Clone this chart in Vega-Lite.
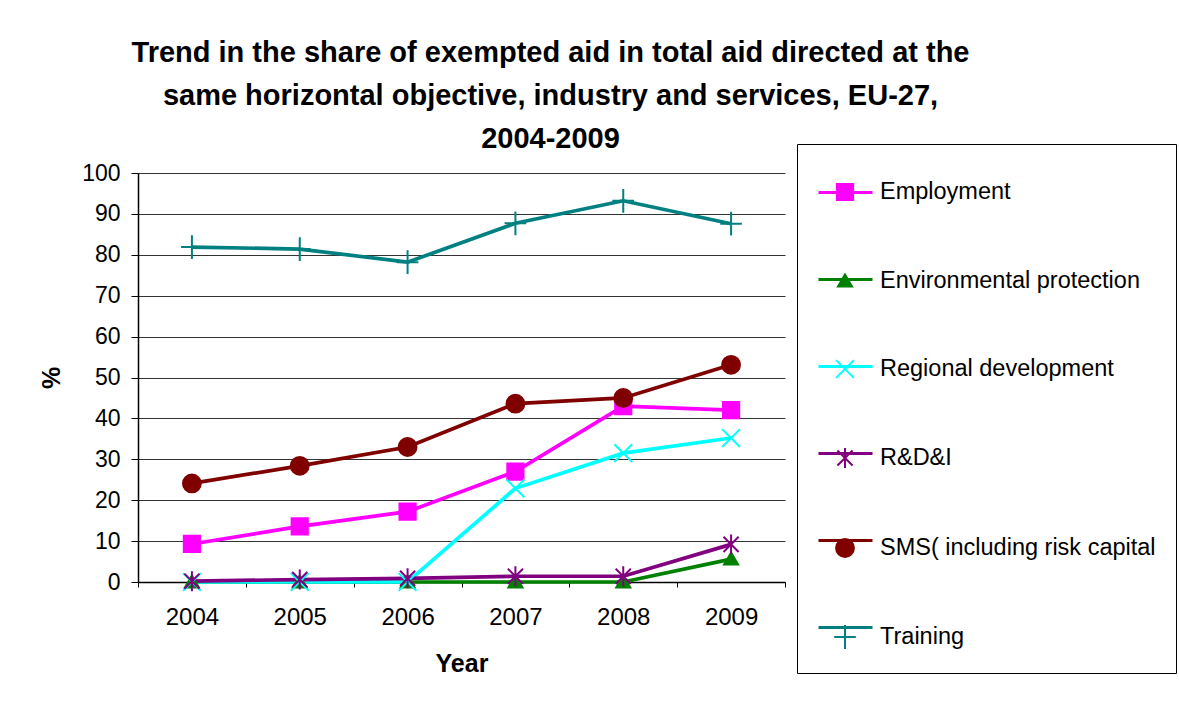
{
  "$schema": "https://vega.github.io/schema/vega-lite/v6.json",
  "autosize": {"type": "none"},
  "padding": {"left": 138, "top": 173, "right": 394, "bottom": 120},
  "width": 647,
  "height": 409,
  "background": "white",
  "config": {
    "font": "Liberation Sans",
    "view": {"stroke": null}
  },
  "title": {
    "text": ["Trend in the share of exempted aid in total aid directed at the", "same horizontal objective, industry and services, EU-27,", "2004-2009"],
    "font": "Liberation Sans",
    "fontSize": 29,
    "fontWeight": "bold",
    "color": "black",
    "anchor": "middle",
    "frame": "group",
    "dx": 89,
    "dy": 22,
    "lineHeight": 43,
    "offset": 12
  },
  "data": {
    "values": [
      {"series": "Employment", "year": "2004", "value": 9.3},
      {"series": "Employment", "year": "2005", "value": 13.6},
      {"series": "Employment", "year": "2006", "value": 17.2},
      {"series": "Employment", "year": "2007", "value": 27.0},
      {"series": "Employment", "year": "2008", "value": 43.0},
      {"series": "Employment", "year": "2009", "value": 42.0},
      {"series": "Environmental protection", "year": "2004", "value": 0},
      {"series": "Environmental protection", "year": "2005", "value": 0},
      {"series": "Environmental protection", "year": "2006", "value": 0},
      {"series": "Environmental protection", "year": "2007", "value": 0},
      {"series": "Environmental protection", "year": "2008", "value": 0},
      {"series": "Environmental protection", "year": "2009", "value": 5.6},
      {"series": "Regional development", "year": "2004", "value": 0},
      {"series": "Regional development", "year": "2005", "value": 0},
      {"series": "Regional development", "year": "2006", "value": 0},
      {"series": "Regional development", "year": "2007", "value": 22.9},
      {"series": "Regional development", "year": "2008", "value": 31.5},
      {"series": "Regional development", "year": "2009", "value": 35.2},
      {"series": "R&D&I", "year": "2004", "value": 0.2},
      {"series": "R&D&I", "year": "2005", "value": 0.6},
      {"series": "R&D&I", "year": "2006", "value": 0.9},
      {"series": "R&D&I", "year": "2007", "value": 1.4},
      {"series": "R&D&I", "year": "2008", "value": 1.4},
      {"series": "R&D&I", "year": "2009", "value": 9.2},
      {"series": "SMS( including risk capital", "year": "2004", "value": 24.1},
      {"series": "SMS( including risk capital", "year": "2005", "value": 28.4},
      {"series": "SMS( including risk capital", "year": "2006", "value": 33.0},
      {"series": "SMS( including risk capital", "year": "2007", "value": 43.6},
      {"series": "SMS( including risk capital", "year": "2008", "value": 45.0},
      {"series": "SMS( including risk capital", "year": "2009", "value": 53.1},
      {"series": "Training", "year": "2004", "value": 81.9},
      {"series": "Training", "year": "2005", "value": 81.4},
      {"series": "Training", "year": "2006", "value": 78.2},
      {"series": "Training", "year": "2007", "value": 87.7},
      {"series": "Training", "year": "2008", "value": 93.2},
      {"series": "Training", "year": "2009", "value": 87.6}
    ]
  },
  "encoding": {
    "x": {
      "field": "year",
      "type": "ordinal",
      "bandPosition": 0.5,
      "scale": {"type": "band", "paddingInner": 0, "paddingOuter": 0},
      "axis": {
        "title": "Year",
        "titleFont": "Liberation Sans",
        "titleFontSize": 25,
        "titleFontWeight": "bold",
        "titleColor": "black",
        "titlePadding": 22,
        "labelFont": "Liberation Sans",
        "labelFontSize": 24,
        "labelColor": "black",
        "labelAngle": 0,
        "labelPadding": 18,
        "tickBand": "extent",
        "tickSize": 5,
        "tickColor": "black",
        "domainColor": "black",
        "domainWidth": 1.5,
        "grid": false
      }
    },
    "y": {
      "field": "value",
      "type": "quantitative",
      "scale": {"domain": [0, 100], "nice": false},
      "axis": {
        "title": "%",
        "titleFont": "Liberation Sans",
        "titleFontSize": 25,
        "titleFontWeight": "bold",
        "titleColor": "black",
        "titlePadding": 17,
        "values": [0, 10, 20, 30, 40, 50, 60, 70, 80, 90, 100],
        "labelFont": "Liberation Sans",
        "labelFontSize": 23,
        "labelColor": "black",
        "labelPadding": 11,
        "tickSize": 7,
        "tickColor": "black",
        "domainColor": "black",
        "domainWidth": 1.5,
        "grid": true,
        "gridColor": "#333333",
        "gridWidth": 1
      }
    }
  },
  "layer": [
    {
      "mark": {"type": "line", "strokeWidth": 3.7},
      "encoding": {
        "color": {
          "field": "series",
          "type": "nominal",
          "sort": ["Employment", "Environmental protection", "Regional development", "R&D&I", "SMS( including risk capital", "Training"],
          "scale": {"range": ["#FF00FF", "#008000", "#00FFFF", "#800080", "#800000", "#008080"]},
          "legend": {
            "title": null,
            "orient": "none",
            "legendX": 659,
            "legendY": -29,
            "strokeColor": null,
            "fillColor": null,
            "padding": 20,
            "rowPadding": 47,
            "labelOffset": 7,
            "labelFont": "Liberation Sans",
            "labelFontSize": 23.5,
            "labelOpacity": 0,
            "labelLimit": 400,
            "symbolType": "M-1,0L1,0",
            "symbolSize": 2916,
            "symbolStrokeWidth": 3,
            "symbolOpacity": 1
          }
        }
      }
    },
    {
      "mark": {"type": "point", "filled": true, "strokeWidth": 2, "opacity": 1, "size": 2916},
      "encoding": {
        "fill": {
          "field": "series",
          "type": "nominal",
          "scale": {
            "domain": ["Employment", "Environmental protection", "Regional development", "R&D&I", "SMS( including risk capital", "Training"],
            "range": ["#FF00FF", "#008000", "#00FFFF", "#800080", "#800000", "#008080"]
          },
          "legend": {
            "title": null,
            "orient": "none",
            "legendX": 659,
            "legendY": -29,
            "strokeColor": "black",
            "padding": 20,
            "rowPadding": 48,
            "labelOffset": 7,
            "labelFont": "Liberation Sans",
            "labelFontSize": 23.5,
            "labelColor": "black",
            "labelLimit": 400,
            "symbolSize": 2916,
            "symbolStrokeWidth": 2,
            "symbolOpacity": 1
          }
        },
        "stroke": {
          "field": "series",
          "type": "nominal",
          "scale": {
            "domain": ["Employment", "Environmental protection", "Regional development", "R&D&I", "SMS( including risk capital", "Training"],
            "range": ["#FF00FF", "#008000", "#00FFFF", "#800080", "#800000", "#008080"]
          },
          "legend": {
            "title": null,
            "orient": "none",
            "legendX": 659,
            "legendY": -29,
            "strokeColor": "black",
            "padding": 20,
            "rowPadding": 48,
            "labelOffset": 7,
            "labelFont": "Liberation Sans",
            "labelFontSize": 23.5,
            "labelColor": "black",
            "labelLimit": 400,
            "symbolSize": 2916,
            "symbolStrokeWidth": 2,
            "symbolOpacity": 1
          }
        },
        "shape": {
          "field": "series",
          "type": "nominal",
          "scale": {
            "domain": ["Employment", "Environmental protection", "Regional development", "R&D&I", "SMS( including risk capital", "Training"],
            "range": [
              "M-0.3,-0.3L0.3,-0.3L0.3,0.3L-0.3,0.3Z",
              "M0,-0.24L0.26,0.2L-0.26,0.2Z",
              "M-0.33,-0.33L0.33,0.33M-0.33,0.33L0.33,-0.33",
              "M0,-0.37L0,0.37M-0.28,-0.28L0.28,0.28M-0.28,0.28L0.28,-0.28",
              "M0.33,0A0.33,0.33,0,1,1,-0.33,0A0.33,0.33,0,1,1,0.33,0Z",
              "M0,-0.44L0,0.44M-0.4,0L0.4,0"
            ]
          },
          "legend": {
            "title": null,
            "orient": "none",
            "legendX": 659,
            "legendY": -29,
            "strokeColor": "black",
            "padding": 20,
            "rowPadding": 48,
            "labelOffset": 7,
            "labelFont": "Liberation Sans",
            "labelFontSize": 23.5,
            "labelColor": "black",
            "labelLimit": 400,
            "symbolSize": 2916,
            "symbolStrokeWidth": 2,
            "symbolOpacity": 1
          }
        }
      }
    }
  ]
}
